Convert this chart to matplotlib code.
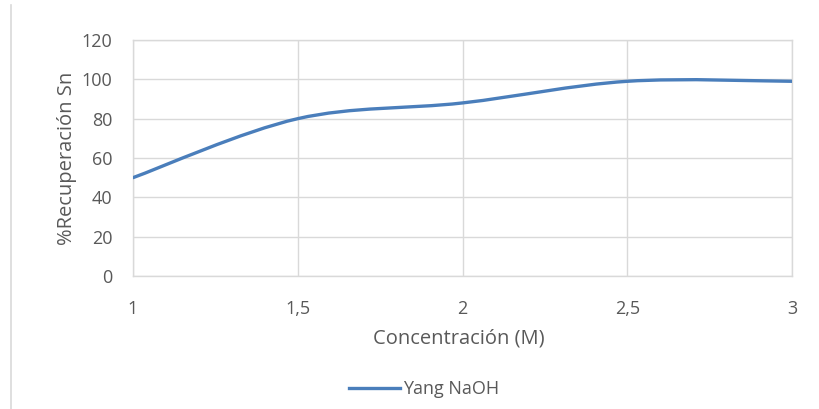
import matplotlib
matplotlib.use("Agg")
import matplotlib.pyplot as plt
from matplotlib.path import Path
from matplotlib.patches import PathPatch
from matplotlib.lines import Line2D

conc = [1.0, 1.5, 2.0, 2.5, 3.0]
recup = [50, 80, 88, 99, 99]
series_name = "Yang NaOH"
xticks = [1, 1.5, 2, 2.5, 3]
xticklabels = ["1", "1,5", "2", "2,5", "3"]
yticks = [0, 20, 40, 60, 80, 100, 120]

plt.rcParams['font.family'] = ['Open Sans', 'DejaVu Sans']

fig = plt.figure(figsize=(8.2, 4.09), dpi=100)
ax = fig.add_axes([133/820, 1 - 276/409, (792-133)/820, (276-40)/409])

line_color = "#4A7EBB"
grid_color = "#D9D9D9"
text_color = "#595959"

# smoothed curve (Catmull-Rom style Bezier) built from data points
pts = list(zip(conc, recup))
verts = [pts[0]]
codes = [Path.MOVETO]
n = len(pts)
for i in range(n - 1):
    p0 = pts[i - 1] if i > 0 else pts[i]
    p1 = pts[i]
    p2 = pts[i + 1]
    p3 = pts[i + 2] if i + 2 < n else pts[i + 1]
    c1 = (p1[0] + (p2[0] - p0[0]) / 6, p1[1] + (p2[1] - p0[1]) / 6)
    c2 = (p2[0] - (p3[0] - p1[0]) / 6, p2[1] - (p3[1] - p1[1]) / 6)
    verts += [c1, c2, p2]
    codes += [Path.CURVE4] * 3
patch = PathPatch(Path(verts, codes), facecolor="none", edgecolor=line_color,
                  lw=2.4, capstyle="round", joinstyle="round", zorder=3)
ax.add_patch(patch)

ax.set_xlim(1, 3)
ax.set_ylim(0, 120)
ax.set_xticks(xticks)
ax.set_xticklabels(xticklabels)
ax.set_yticks(yticks)
ax.grid(True, color=grid_color, lw=1)
ax.set_axisbelow(True)
for s in ax.spines.values():
    s.set_color(grid_color)
    s.set_linewidth(1)
ax.tick_params(length=0, colors=text_color, labelsize=13)
ax.tick_params(axis="x", pad=17)
ax.tick_params(axis="y", pad=15)

ax.set_xlabel("Concentración (M)", fontsize=14.5, color=text_color)
ax.set_ylabel("%Recuperación Sn", fontsize=14.5, color=text_color)
ax.xaxis.set_label_coords(0.494, -0.263)
ax.xaxis.label.set_va("center")
ax.yaxis.set_label_coords(-0.100, 0.498)
ax.yaxis.label.set_va("center")

handle = Line2D([], [], color=line_color, lw=2.4)
leg = fig.legend([handle], [series_name], loc="center", bbox_to_anchor=(424/820, 1 - 389/409),
                 frameon=False, fontsize=13, handlelength=2.8, handletextpad=0.15)
for t in leg.get_texts():
    t.set_color(text_color)

fig.add_artist(Line2D([11/820, 11/820], [0, 1 - 5/409], transform=fig.transFigure,
                      color=grid_color, lw=1.2))

fig.savefig("out.png", dpi=100, facecolor="white")
